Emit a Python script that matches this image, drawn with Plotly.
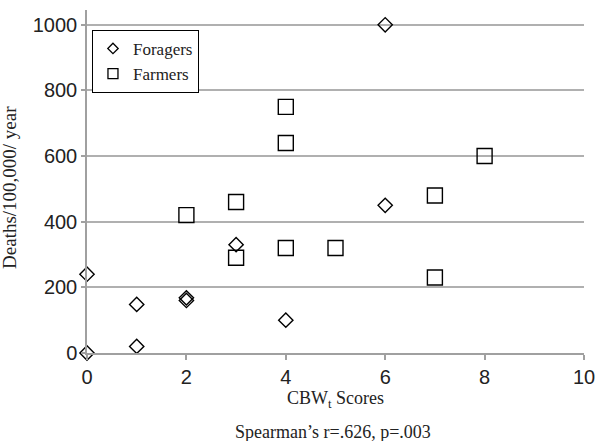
import plotly.graph_objects as go

forager_x = [0, 0, 1, 1, 2, 2, 3, 4, 6, 6]
forager_y = [0, 240, 20, 148, 160, 168, 330, 100, 450, 1000]
farmer_x = [2, 3, 3, 4, 4, 4, 5, 7, 7, 8]
farmer_y = [420, 460, 290, 750, 640, 320, 320, 480, 230, 600]
x_ticks = [0, 2, 4, 6, 8, 10]
y_ticks = [0, 200, 400, 600, 800, 1000]

SERIF = "Liberation Serif"
SANS = "Liberation Sans"
INK = "#222"

fig = go.Figure()
fig.add_trace(go.Scatter(x=forager_x, y=forager_y, mode="markers", name="Foragers",
                         cliponaxis=False, showlegend=False,
                         marker=dict(symbol="diamond-open", size=11, color="black",
                                     line=dict(width=1.4, color="black"))))
fig.add_trace(go.Scatter(x=farmer_x, y=farmer_y, mode="markers", name="Farmers",
                         cliponaxis=False, showlegend=False,
                         marker=dict(symbol="square-open", size=15, color="black",
                                     line=dict(width=1.4, color="black"))))
# legend entries (smaller symbols, as in the reference legend)
fig.add_trace(go.Scatter(x=[None], y=[None], mode="markers", name="Foragers",
                         marker=dict(symbol="diamond-open", size=8, color="black",
                                     line=dict(width=1.3, color="black"))))
fig.add_trace(go.Scatter(x=[None], y=[None], mode="markers", name="Farmers",
                         marker=dict(symbol="square-open", size=10, color="black",
                                     line=dict(width=1.3, color="black"))))

fig.update_layout(
    width=595, height=441,
    margin=dict(l=87, r=11, t=10, b=88),
    paper_bgcolor="white", plot_bgcolor="white",
    showlegend=True,
    legend=dict(x=0.01, y=0.942, xanchor="left", yanchor="top",
                bordercolor="black", borderwidth=1, bgcolor="white",
                font=dict(family=SERIF, size=17, color=INK),
                tracegroupgap=0, itemwidth=30),
    xaxis=dict(range=[0, 10], tickvals=x_ticks, showgrid=False, zeroline=False,
               automargin=False, ticklabeloverflow="allow",
               showline=True, linecolor="#a0a0a0", linewidth=1.5,
               ticks="outside", ticklen=5, tickcolor="#a0a0a0", tickwidth=1.5,
               tickfont=dict(family=SANS, size=20, color=INK)),
    yaxis=dict(range=[0, 1045], tickvals=y_ticks, showgrid=True, gridcolor="#b0b0b0",
               gridwidth=1.5, zeroline=False, automargin=False,
               showline=True, linecolor="#a0a0a0", linewidth=1.5,
               ticks="outside", ticklen=4, tickcolor="#a0a0a0", tickwidth=1.5,
               tickfont=dict(family=SANS, size=20, color=INK)),
    annotations=[
        dict(text="CBW<sub>t</sub> Scores", xref="paper", yref="paper",
             x=0.5, y=-0.135, xanchor="center", yanchor="middle", showarrow=False,
             font=dict(family=SERIF, size=18, color=INK)),
        dict(text="Deaths/100,000/ year", xref="paper", yref="paper", textangle=-90,
             x=-0.155, y=0.484, xanchor="center", yanchor="middle", showarrow=False,
             font=dict(family=SERIF, size=19, color=INK)),
        dict(text="Spearman\u2019s r=.626, p=.003", xref="paper", yref="paper",
             x=0.495, y=-0.23, xanchor="center", yanchor="middle", showarrow=False,
             font=dict(family=SERIF, size=18, color=INK)),
    ],
)

fig.write_html("out.html", config={"displayModeBar": False},
               post_script="document.body.style.margin='0';")
